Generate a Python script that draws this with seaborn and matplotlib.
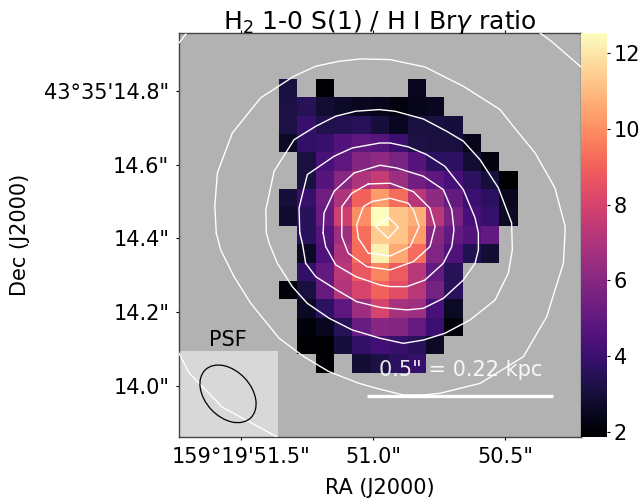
"""
H2 1-0 S(1) / H I Br-gamma line ratio map with continuum contours.
"""

import matplotlib

matplotlib.use("Agg")
import matplotlib.pyplot as plt
import numpy as np
import seaborn as sns
from matplotlib.patches import Ellipse, Rectangle

n = np.nan

# ratio map, one list per row of spaxels (top to bottom)
row_00 = [3.1, n, 1.9, n, n, n, n, 2.5, n, n, n, n, n]
row_01 = [3.2, 3.5, 2.9, 2.7, 2.5, 2.4, 2.2, 2.4, 2.5, n, n, n, n]
row_02 = [3.2, 3.9, 3.3, 3.4, 3.5, 3.0, 2.5, 3.1, 3.1, 3.0, n, n, n]
row_03 = [2.6, 3.8, 3.9, 4.6, 4.9, 4.7, 4.0, 3.2, 3.1, 3.1, 2.4, n, n]
row_04 = [n, 3.1, 4.4, 4.9, 5.9, 6.2, 5.6, 4.7, 3.7, 3.7, 2.9, 2.2, n]
row_05 = [n, 3.1, 4.7, 6.0, 7.0, 7.6, 6.5, 5.4, 4.9, 4.3, 3.7, 3.0, 1.9]
row_06 = [3.0, 3.9, 5.4, 7.0, 9.0, 10.3, 9.2, 7.2, 6.2, 5.0, 4.0, 3.7, 2.5]
row_07 = [2.8, 3.6, 5.2, 7.8, 10.0, 12.5, 11.2, 10.7, 7.2, 5.6, 4.3, 3.9, 2.6]
row_08 = [n, 3.6, 4.7, 6.6, 9.3, 11.4, 11.2, 10.3, 6.0, 5.0, 4.6, 5.0, n]
row_09 = [n, 2.6, 4.5, 7.0, 9.2, 12.2, 10.6, 9.2, 5.8, 4.5, 3.4, 2.9, n]
row_10 = [n, 3.8, 5.0, 7.2, 8.7, 9.8, 8.8, 7.2, 5.0, 3.5, n, n, n]
row_11 = [2.1, 3.1, 5.1, 7.1, 8.0, 9.0, 8.4, 7.2, 5.5, 3.6, n, n, n]
row_12 = [n, 2.6, 3.7, 4.9, 6.5, 8.0, 6.8, 6.6, 4.4, 2.6, n, n, n]
row_13 = [n, 2.1, 2.5, 3.5, 5.2, 6.0, 5.9, 5.1, 4.0, 2.1, n, n, n]
row_14 = [n, 1.85, 1.9, 3.0, 3.8, 4.2, 3.9, 3.6, 2.6, n, n, n, n]
row_15 = [n, n, 1.85, n, 2.9, 3.2, 3.7, 3.9, n, n, n, n, n]
ratio_rows = [row_00, row_01, row_02, row_03, row_04, row_05, row_06, row_07,
              row_08, row_09, row_10, row_11, row_12, row_13, row_14, row_15]

# continuum contours, in map spaxels
ring_b_x = [-3.42, -3.50, -3.36, -2.54, -1.00, 0.82, 2.00, 3.27, 4.45, 6.05, 7.95, 10.04, 12.04, 12.76, 13.95, 15.03,
            15.58, 15.58, 15.49, 14.58, 13.31, 10.95, 8.77, 7.86, 6.77, 5.50, 4.36, 2.72, 1.36, 0.00, -1.54, -2.45,
            -3.18, -3.42]
ring_b_y = [8.39, 6.92, 5.12, 2.94, 1.03, -0.15, -0.69, -0.96, -1.09, -1.05, -0.65, 0.40, 1.67, 2.58, 4.03, 5.94,
            8.01, 8.39, 10.04, 12.95, 15.13, 16.58, 17.12, 17.21, 17.21, 16.90, 16.58, 15.94, 15.13, 14.12, 12.22, 10.77,
            9.31, 8.39]
ring_c_x = [-0.69, -0.72, -0.27, 0.82, 2.00, 3.09, 4.18, 5.45, 6.32, 7.86, 9.13, 10.04, 10.95, 11.95, 12.67, 12.71,
            12.49, 11.77, 10.40, 9.04, 7.86, 6.77, 5.50, 3.99, 2.72, 1.54, 0.72, -0.09, -0.54, -0.69]
ring_c_y = [8.39, 7.12, 5.03, 3.31, 2.58, 2.03, 1.76, 1.67, 1.76, 2.18, 2.85, 3.39, 4.40, 5.94, 7.84, 9.31,
            10.58, 12.04, 13.13, 13.85, 14.22, 14.40, 14.12, 13.67, 13.03, 12.22, 11.31, 10.04, 8.95, 8.39]
ring_d_x = [1.13, 1.09, 1.54, 3.00, 3.99, 5.50, 6.05, 7.04, 8.04, 9.04, 10.04, 10.68, 10.86, 10.86, 10.68, 10.04,
            8.95, 7.86, 6.96, 5.50, 4.23, 3.14, 2.00, 1.45, 1.27, 1.13]
ring_d_y = [8.39, 7.03, 5.21, 4.21, 3.76, 3.49, 3.49, 3.70, 4.12, 4.76, 6.03, 7.57, 8.39, 9.31, 10.04, 10.95,
            11.95, 12.49, 12.58, 12.44, 12.13, 11.49, 10.77, 10.04, 8.95, 8.39]
ring_e_x = [2.40, 2.45, 3.00, 4.09, 5.50, 6.41, 7.86, 8.95, 9.41, 9.53, 9.41, 8.95, 7.95, 6.96, 6.05, 5.50, 4.19,
            3.09, 2.54, 2.40]
ring_e_y = [8.39, 7.30, 6.12, 5.12, 4.70, 4.85, 5.30, 6.03, 7.12, 8.22, 9.13, 10.04, 10.95, 11.31, 11.31, 11.22, 10.77,
            10.13, 9.13, 8.39]
ring_f_x = [4.86, 6.05, 7.32, 8.22, 8.50, 8.22, 7.32, 6.05, 4.78, 3.77, 3.42, 3.42, 3.96, 4.86]
ring_f_y = [5.72, 5.68, 6.14, 7.04, 8.04, 9.13, 9.95, 10.40, 10.22, 9.49, 8.59, 6.96, 6.23, 5.72]
ring_g_x = [5.05, 6.05, 7.04, 7.32, 7.63, 7.14, 6.05, 4.86, 4.32, 4.23, 4.59, 5.05]
ring_g_y = [6.68, 6.50, 6.77, 7.14, 8.04, 9.13, 9.64, 9.49, 8.68, 7.95, 6.96, 6.68]
ring_h_x = [5.95, 6.50, 5.95, 5.27, 5.95]
ring_h_y = [7.53, 8.08, 8.68, 8.04, 7.53]
outer_sw_x = [-5.45, -4.90, -3.10, -1.09, -0.11]
outer_sw_y = [14.93, 16.01, 17.87, 18.96, 19.50]
outer_ne_x = [14.22, 14.87, 16.45]
outer_ne_y = [-2.50, -2.02, -0.65]
outer_nw_x = [-5.45, -5.07]
outer_nw_y = [-1.96, -2.45]
contours = [(ring_b_x, ring_b_y), (ring_c_x, ring_c_y), (ring_d_x, ring_d_y), (ring_e_x, ring_e_y),
            (ring_f_x, ring_f_y), (ring_g_x, ring_g_y), (ring_h_x, ring_h_y),
            (outer_sw_x, outer_sw_y), (outer_ne_x, outer_ne_y), (outer_nw_x, outer_nw_y)]

ra_labels = ["159°19'51.5\"", "51.0\"", "50.5\""]
dec_labels = ["43°35'14.8\"", "14.6\"", "14.4\"", "14.2\"", "14.0\""]
cbar_ticks = [2, 4, 6, 8, 10, 12]

W, H = 641, 498
FS = 15

sns.set_style("ticks")
plt.rcParams["text.color"] = "black"
plt.rcParams["xtick.color"] = "black"
plt.rcParams["ytick.color"] = "black"
fig = plt.figure(figsize=(W / 100, H / 100), dpi=100)
ax = fig.add_axes([179 / W, 1 - 437 / H, 402 / W, 404 / H])
cax = fig.add_axes([581 / W, 1 - 437 / H, 26 / W, 404 / H])

cmap = plt.get_cmap("magma").copy()
ax.set_facecolor("#b2b2b2")

sns.heatmap(np.array(ratio_rows), ax=ax, cbar_ax=cax, cmap=cmap, vmin=1.87, vmax=12.53,
            xticklabels=False, yticklabels=False)

for cx, cy in contours:
    ax.plot(cx, cy, color="white", lw=1.0, zorder=3)

ax.set_xlim(-5.45, 16.45)
ax.set_ylim(19.5, -2.5)

# PSF inset
ax.add_patch(Rectangle((-5.45, 14.8), 5.4, 4.7, facecolor="white", alpha=0.5, lw=0, zorder=2.5))
ax.add_patch(Ellipse((-2.78, 17.15), 3.6, 2.5, angle=47, fill=False, edgecolor="black", lw=0.9, zorder=4))
ax.text(-2.78, 14.2, "PSF", color="black", fontsize=FS, ha="center", va="center")

# scale bar
ax.plot([4.79, 14.92], [17.27, 17.27], color="white", lw=2.4, solid_capstyle="butt", zorder=4)
ax.text(9.89, 15.85, "0.5\" = 0.22 kpc", color="white", alpha=0.9, fontsize=FS, ha="center", va="center", zorder=4)

ax.set_xticks([-2.07, 5.12, 12.33], labels=ra_labels)
ax.set_yticks([0.65, 4.69, 8.66, 12.69, 16.73], labels=dec_labels)
ax.tick_params(axis="both", labelsize=FS, length=2, width=0.8, top=True, pad=5, colors="black")
for s in ax.spines.values():
    s.set_visible(True)
    s.set_color("#444444")
    s.set_linewidth(1.0)

cbar = ax.collections[0].colorbar
cbar.set_ticks(cbar_ticks)
cbar.ax.tick_params(labelsize=FS, length=2, width=0.8, pad=3, colors="black")

fig.text(380 / W, 1 - 488 / H, "RA (J2000)", fontsize=FS, ha="center", va="center")
fig.text(20 / W, 1 - 235 / H, "Dec (J2000)", fontsize=FS, ha="center", va="center", rotation=90)
fig.text(380 / W, 1 - 22 / H, r"H$_2$ 1-0 S(1) / H I Br$\gamma$ ratio", fontsize=18, ha="center", va="center")

fig.savefig("out.png", dpi=100)
